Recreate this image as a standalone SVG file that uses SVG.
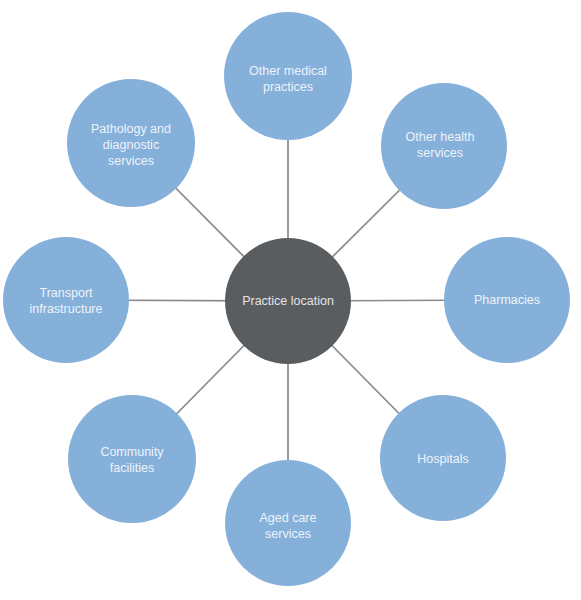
<svg xmlns="http://www.w3.org/2000/svg" width="581" height="600" viewBox="0 0 581 600">
<style>
.bg{fill:#ffffff}
.node circle{fill:#85b0da}
.hub circle{fill:#5a5d60}
.node text{fill:#eef3fa;font-family:"Liberation Sans",Arial,sans-serif;font-size:12.5px;text-anchor:middle}
.hub text{fill:#e4e4e4;font-family:"Liberation Sans",Arial,sans-serif;font-size:12.5px;text-anchor:middle}
#connectors line{stroke:#8a8a8a;stroke-width:1.7}
</style>
<rect class="bg" x="0" y="0" width="581" height="600"/>
<g id="connectors">
<line x1="288" y1="301" x2="288" y2="76"/>
<line x1="288" y1="301" x2="444" y2="146"/>
<line x1="288" y1="301" x2="507" y2="300"/>
<line x1="288" y1="301" x2="443" y2="458"/>
<line x1="288" y1="301" x2="288" y2="523"/>
<line x1="288" y1="301" x2="132" y2="459"/>
<line x1="288" y1="301" x2="66" y2="300"/>
<line x1="288" y1="301" x2="131" y2="143"/>
</g>
<g id="other-medical" class="node"><circle cx="288" cy="76" r="64"/><text x="288" y="75">Other medical</text><text x="288" y="91">practices</text></g>
<g id="other-health" class="node"><circle cx="444" cy="146" r="63"/><text x="440" y="141">Other health</text><text x="440" y="157">services</text></g>
<g id="pharmacies" class="node"><circle cx="507" cy="300" r="63"/><text x="507" y="304">Pharmacies</text></g>
<g id="hospitals" class="node"><circle cx="443" cy="458" r="63"/><text x="443" y="463">Hospitals</text></g>
<g id="aged-care" class="node"><circle cx="288" cy="523" r="63"/><text x="288" y="522">Aged care</text><text x="288" y="538">services</text></g>
<g id="community" class="node"><circle cx="132" cy="459" r="64"/><text x="132" y="456">Community</text><text x="132" y="472">facilities</text></g>
<g id="transport" class="node"><circle cx="66" cy="300" r="63"/><text x="66" y="297">Transport</text><text x="66" y="313">infrastructure</text></g>
<g id="pathology" class="node"><circle cx="131" cy="143" r="64"/><text x="131" y="133">Pathology and</text><text x="131" y="149">diagnostic</text><text x="131" y="165">services</text></g>
<g id="practice-location" class="hub"><circle cx="288" cy="301" r="63"/><text x="288" y="305">Practice location</text></g>
</svg>
